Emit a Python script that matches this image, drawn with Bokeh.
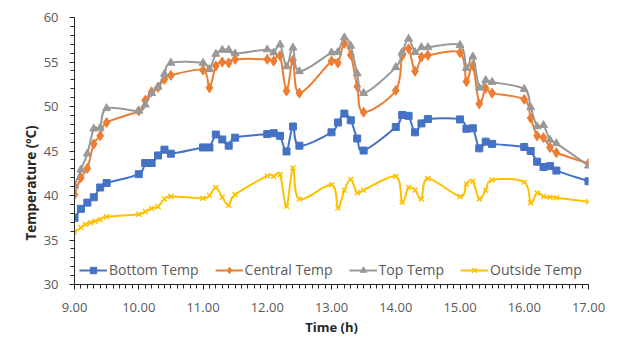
import numpy as np
from bokeh.plotting import figure
from bokeh.models import (Range1d, FixedTicker, NumeralTickFormatter, Legend,
                          LegendItem, ColumnDataSource, Title)
from bokeh.embed import file_html
from bokeh.resources import INLINE

# ---------------- data ----------------
time_h = [9.0, 9.1, 9.2, 9.3, 9.4, 9.5,
          10.0, 10.1, 10.2, 10.3, 10.4, 10.5,
          11.0, 11.1, 11.2, 11.3, 11.4, 11.5,
          12.0, 12.1, 12.2, 12.3, 12.4, 12.5,
          13.0, 13.1, 13.2, 13.3, 13.4, 13.5,
          14.0, 14.1, 14.2, 14.3, 14.4, 14.5,
          15.0, 15.1, 15.2, 15.3, 15.4, 15.5,
          16.0, 16.1, 16.2, 16.3, 16.4, 16.5,
          17.0]

bottom_temp = [37.5, 38.5, 39.2, 39.8, 40.9, 41.4,
               42.4, 43.65, 43.65, 44.5, 45.15, 44.7,
               45.4, 45.4, 46.85, 46.3, 45.6, 46.5,
               46.9, 47.0, 46.7, 44.95, 47.75, 45.6,
               47.1, 48.2, 49.2, 48.45, 46.4, 45.05,
               47.7, 49.05, 48.95, 47.1, 48.1, 48.6,
               48.55, 47.5, 47.55, 45.3, 46.05, 45.8,
               45.45, 45.0, 43.8, 43.2, 43.3, 42.8,
               41.6]

central_temp = [40.1, 42.0, 43.05, 45.8, 46.7, 48.2,
                49.5, 50.7, 51.65, 52.15, 53.05, 53.5,
                54.1, 52.1, 54.55, 55.0, 54.9, 55.3,
                55.3, 55.1, 55.7, 51.75, 55.2, 51.5,
                55.1, 54.9, 57.1, 55.8, 52.25, 49.35,
                51.8, 55.7, 56.5, 53.95, 55.55, 55.75,
                56.05, 52.8, 54.6, 50.3, 52.05, 51.5,
                50.8, 48.7, 46.7, 46.5, 45.4, 44.8,
                43.6]

top_temp = [41.1, 42.9, 44.7, 47.5, 47.6, 49.8,
            49.5, 50.2, 51.5, 52.2, 53.65, 54.9,
            54.9, 54.2, 55.9, 56.35, 56.35, 55.95,
            56.4, 56.05, 56.95, 54.5, 56.6, 53.95,
            56.05, 56.1, 57.75, 56.8, 53.7, 51.5,
            54.4, 56.1, 57.6, 56.1, 56.65, 56.65,
            56.9, 54.3, 55.6, 52.1, 52.95, 52.75,
            51.95, 49.9, 47.75, 47.9, 46.25, 45.85,
            43.35]

outside_time = [9.0, 9.1, 9.17, 9.25, 9.32, 9.4, 9.5,
                10.0, 10.1, 10.2, 10.3, 10.4, 10.5,
                11.0, 11.1, 11.2, 11.3, 11.4, 11.5,
                12.0, 12.1, 12.2, 12.3, 12.4, 12.5,
                13.0, 13.1, 13.2, 13.3, 13.4, 13.5,
                14.0, 14.1, 14.2, 14.3, 14.4, 14.5,
                15.0, 15.1, 15.2, 15.3, 15.4, 15.5,
                16.0, 16.1, 16.2, 16.3, 16.4, 16.5,
                17.0]

outside_temp = [35.9, 36.4, 36.75, 36.95, 37.1, 37.3, 37.6,
                37.9, 38.2, 38.55, 38.75, 39.6, 39.9,
                39.7, 40.0, 40.9, 39.8, 38.9, 40.1,
                42.2, 42.15, 42.35, 38.8, 43.1, 39.6,
                41.2, 38.6, 40.6, 41.8, 40.3, 40.6,
                42.15, 39.25, 40.9, 40.6, 39.6, 41.9,
                39.9, 41.3, 41.6, 39.6, 40.6, 41.75,
                41.5, 39.2, 40.3, 39.9, 39.8, 39.75,
                39.3]

x_major = [9, 10, 11, 12, 13, 14, 15, 16, 17]
y_major = [30, 35, 40, 45, 50, 55, 60]

series_names = ["Bottom Temp", "Central Temp", "Top Temp", "Outside Temp"]
series_colors = ["#4472C4", "#ED7D31", "#999999", "#FFC000"]
series_markers = ["square", "diamond", "triangle", "x"]


def smooth_source(xs, ys):
    """Bezier segments (Catmull-Rom style, as Excel's smoothed line)."""
    xs = np.asarray(xs, float)
    ys = np.asarray(ys, float)
    n = len(xs)
    xp = np.concatenate([[xs[0]], xs, [xs[-1]]])
    yp = np.concatenate([[ys[0]], ys, [ys[-1]]])
    cx0 = xp[1:n] + (xp[2:n + 1] - xp[0:n - 1]) / 6.0
    cy0 = yp[1:n] + (yp[2:n + 1] - yp[0:n - 1]) / 6.0
    cx1 = xp[2:n + 1] - (xp[3:n + 2] - xp[1:n]) / 6.0
    cy1 = yp[2:n + 1] - (yp[3:n + 2] - yp[1:n]) / 6.0
    return ColumnDataSource(dict(x0=xs[:-1], y0=ys[:-1], x1=xs[1:], y1=ys[1:],
                                 cx0=cx0, cy0=cy0, cx1=cx1, cy1=cy1))


p = figure(width=619, height=340, output_backend="svg", toolbar_location=None,
           x_range=Range1d(9, 17), y_range=Range1d(30, 60),
           min_border_left=74, min_border_right=31, min_border_top=17,
           min_border_bottom=56)
p.outline_line_color = None
p.xgrid.visible = False
p.ygrid.visible = False
p.background_fill_color = "white"

FONT = "Open Sans"
# axes
xa = p.xaxis[0]
xa.ticker = FixedTicker(ticks=x_major,
                        minor_ticks=[round(9 + i * 0.1, 2) for i in range(81)])
xa.formatter = NumeralTickFormatter(format="0.00")
ya = p.yaxis[0]
ya.ticker = FixedTicker(ticks=y_major, minor_ticks=list(range(30, 61)))

for ax in (xa, ya):
    ax.axis_line_color = "#262626"
    ax.axis_line_width = 1
    ax.major_tick_line_color = "#262626"
    ax.minor_tick_line_color = "#262626"
    ax.major_tick_in = 0
    ax.major_tick_out = 5
    ax.minor_tick_in = 0
    ax.minor_tick_out = 4
    ax.major_label_text_font = FONT
    ax.major_label_text_font_size = "13px"
    ax.major_label_text_color = "#595959"
    ax.axis_label_text_font = FONT
    ax.axis_label_text_font_size = "13px"
    ax.axis_label_text_font_style = "bold"
    ax.axis_label_text_color = "#262626"

xa.major_label_standoff = 13
xa.axis_label = "Time (h)"
xa.axis_label_standoff = 3
ya.major_label_standoff = 11

# y-axis title, placed a little below the frame centre as in the original
ytitle = Title(text="Temperature (ºC)", align="left", offset=44,
               vertical_align="middle", standoff=0,
               text_font=FONT, text_font_size="13.5px", text_font_style="bold",
               text_color="#262626")
p.add_layout(ytitle, "left")

xs_all = [time_h, time_h, time_h, outside_time]
ys_all = [bottom_temp, central_temp, top_temp, outside_temp]

items = []
for name, color, marker, xs, ys in zip(series_names, series_colors, series_markers, xs_all, ys_all):
    src = smooth_source(xs, ys)
    p.bezier(x0="x0", y0="y0", x1="x1", y1="y1", cx0="cx0", cy0="cy0",
             cx1="cx1", cy1="cy1", source=src, line_color=color, line_width=2,
             line_cap="round")
    # stand-in line renderer (draws nothing in the plot) for the legend glyph
    leg_line = p.line(x=[float("nan")], y=[float("nan")], line_color=color, line_width=2)
    if marker == "x":
        sc = p.scatter(xs, ys, marker="x", size=7, line_color=color, line_width=1.5)
    elif marker == "diamond":
        sc = p.scatter(xs, ys, marker="diamond", size=10, fill_color=color, line_color=color)
    elif marker == "triangle":
        sc = p.scatter(xs, ys, marker="triangle", size=8, fill_color=color, line_color=color)
    else:
        sc = p.scatter(xs, ys, marker="square", size=7, fill_color=color, line_color=color)
    items.append(LegendItem(label=name, renderers=[leg_line, sc]))

legend = Legend(items=items, orientation="horizontal", location=(5, 5),
                background_fill_alpha=0, border_line_color=None,
                glyph_width=28, glyph_height=16, label_standoff=2, spacing=16,
                padding=2, margin=0, label_text_font=FONT,
                label_text_font_size="14px", label_text_color="#595959",
                label_height=18)
p.add_layout(legend, "center")

open("out.html", "w").write(file_html(p, INLINE))
